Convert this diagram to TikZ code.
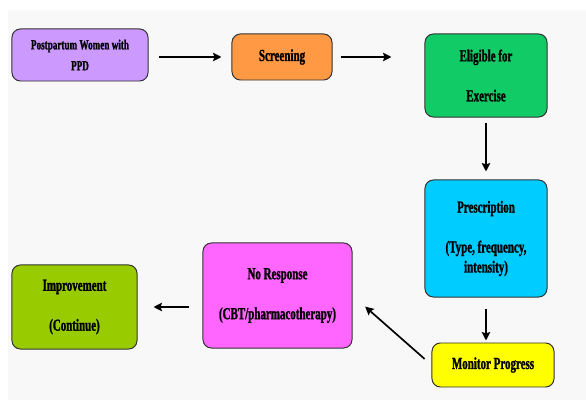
\documentclass[tikz,border=0pt]{standalone}
\usepackage{fontspec}
\setmainfont{Liberation Serif}[FakeStretch=0.65, BoldFeatures={FakeStretch=0.65, FakeBold=1.2}]
\usepackage{tikz}
\usetikzlibrary{arrows.meta, positioning, calc}
\definecolor{pp-purple}{HTML}{CC99FF}
\definecolor{scr-orange}{HTML}{FF9944}
\definecolor{eli-green}{HTML}{11CC66}
\definecolor{pre-cyan}{HTML}{00CCFF}
\definecolor{mon-yellow}{HTML}{FFFF00}
\definecolor{nor-magenta}{HTML}{FF66FF}
\definecolor{imp-lime}{HTML}{99CC00}
\definecolor{bg-grey}{HTML}{F8F8F8}
\definecolor{edge-grey}{HTML}{333333}

\begin{document}
\begin{tikzpicture}[
    x=0.025cm, y=-0.025cm,
    box/.style={draw=edge-grey, line width=0.7pt, rounded corners=6pt, align=center, inner sep=2pt, font=\bfseries\fontsize{12}{14.2}\selectfont},
    flow/.style={-{Stealth[length=6pt, width=6pt, inset=1pt]}, line width=1.2pt}
]
    % canvas
    \useasboundingbox (0,0) rectangle (586,400);
    \fill[bg-grey] (8,10) rectangle (586,400);

    % top row
    \node (pp) [box, fill=pp-purple, minimum width=3.4cm, minimum height=1.3cm, font=\bfseries\fontsize{10}{14.9}\selectfont] at (80,55) {Postpartum Women with\\PPD};
    \node (scr) [box, fill=scr-orange, minimum width=2.5cm, minimum height=1.15cm] at (282,57) {Screening};
    \node (eli) [box, fill=eli-green, minimum width=3.05cm, minimum height=2.075cm] at (486,75.5) {Eligible for\\[14.2pt]Exercise};

    % right column
    \node (pre) [box, fill=pre-cyan, minimum width=3.05cm, minimum height=2.925cm] at (486,238.5) {Prescription\\[14.2pt](Type, frequency,\\intensity)};
    \node (mon) [box, fill=mon-yellow, minimum width=3.05cm, minimum height=1.1cm] at (493,365) {Monitor Progress};

    % bottom row
    \node (nor) [box, fill=nor-magenta, minimum width=3.725cm, minimum height=2.625cm] at (277.5,295.5) {No Response\\[14.2pt](CBT/pharmacotherapy)};
    \node (imp) [box, fill=imp-lime, minimum width=3.125cm, minimum height=2.1cm] at (74.5,307) {Improvement\\[14.2pt](Continue)};

    % connections
    \draw[flow, shorten <=0.25cm, shorten >=0.25cm] (pp.east |- scr.west) -- (scr.west);
    \draw[flow, shorten <=0.2cm, shorten >=0.825cm] (scr.east) -- (eli.west |- scr.east);
    \draw[flow, shorten <=0.125cm, shorten >=0.2cm] (eli.south) -- (pre.north);
    \draw[flow, shorten <=0.275cm, shorten >=0.05cm] (pre.south) -- (pre.south |- mon.north);
    \draw[flow, shorten <=0.23cm, shorten >=0.42cm] (mon.west) -- (nor.east);
    \draw[flow, shorten <=0.325cm, shorten >=0.4cm] (nor.west |- imp.east) -- (imp.east);
\end{tikzpicture}
\end{document}
